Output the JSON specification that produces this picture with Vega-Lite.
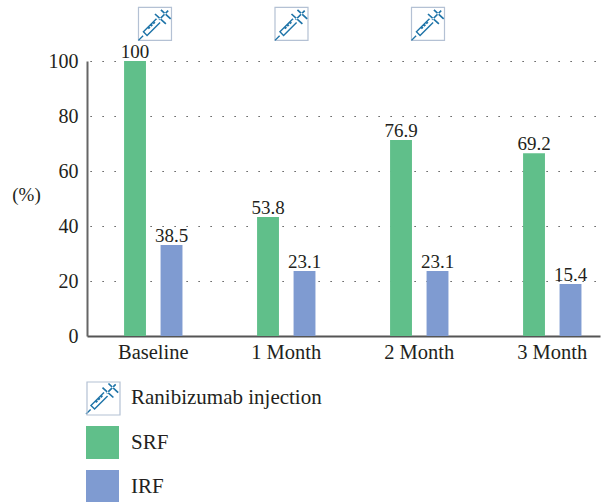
{
"$schema":"https://vega.github.io/schema/vega-lite/v6.json",
"width":513,"height":275,
"padding":{"left":87,"top":61,"right":9,"bottom":166},
"autosize":{"type":"none"},
"background":"white",
"config":{"view":{"stroke":null},"font":"Liberation Serif","text":{"font":"Liberation Serif"}},
"datasets":{
"bars":[
{"visit":"Baseline","series":"SRF","value":100,"label":"100"},
{"visit":"Baseline","series":"IRF","value":33.1,"label":"38.5"},
{"visit":"1 Month","series":"SRF","value":43.3,"label":"53.8"},
{"visit":"1 Month","series":"IRF","value":23.6,"label":"23.1"},
{"visit":"2 Month","series":"SRF","value":71.3,"label":"76.9"},
{"visit":"2 Month","series":"IRF","value":23.6,"label":"23.1"},
{"visit":"3 Month","series":"SRF","value":66.5,"label":"69.2"},
{"visit":"3 Month","series":"IRF","value":18.9,"label":"15.4"}],
"icons":[
{"dose":0,"level":113.5,"series":"Ranibizumab injection"},
{"dose":1,"level":113.5,"series":"Ranibizumab injection"},
{"dose":2,"level":113.5,"series":"Ranibizumab injection"}]
},
"layer":[
{"data":{"name":"bars"},
"encoding":{
"x":{"field":"visit","type":"nominal","sort":["Baseline","1 Month","2 Month","3 Month"],
"scale":{"paddingInner":0.5,"paddingOuter":0.1786,"align":0.695},
"axis":{"title":null,"labelAngle":0,"labelFontSize":20.5,"labelColor":"#231f20","labelFont":"Liberation Serif","labelPadding":6,"ticks":false,"domainColor":"#555555","domainWidth":2,"grid":false}},
"xOffset":{"field":"series","type":"nominal","sort":["SRF","IRF"],"scale":{"paddingInner":0.4,"paddingOuter":0.111}},
"y":{"field":"value","type":"quantitative","scale":{"domain":[0,100],"nice":false},
"axis":{"title":"(%)","titleAngle":0,"titleFontSize":19,"titleFont":"Liberation Serif","titleFontWeight":"normal","titleColor":"#231f20","titleX":-61,"titleY":143,"titleAlign":"center","values":[0,20,40,60,80,100],"labelFontSize":20,"labelFont":"Liberation Serif","labelColor":"#231f20","labelPadding":9,"ticks":false,"domainColor":"#666666","domainWidth":2,"grid":true,"gridColor":"#333333","gridWidth":1.2,"gridDash":[1.2,10.8],"gridDashOffset":-3}}
},
"layer":[
{"mark":{"type":"bar"},
"encoding":{"color":{"field":"series","type":"nominal","scale":{"domain":["Ranibizumab injection","SRF","IRF"],"range":["#1f74a8","#60BF8A","#7F9BD1"]}}}},
{"mark":{"type":"text","fontSize":19,"font":"Liberation Serif","color":"#231f20","baseline":"bottom","dy":1},
"encoding":{"text":{"field":"label"}}}
]},
{"data":{"name":"icons"},
"encoding":{
"x":{"field":"dose","type":"quantitative","scale":{"domain":[-0.498,3.26],"nice":false,"zero":false},"axis":null},
"y":{"field":"level","type":"quantitative"}
},
"layer":[
{"mark":{"type":"point","shape":"square","size":1089,"filled":false,"strokeWidth":1.2,"opacity":1,"clip":false},
"encoding":{"stroke":{"field":"series","type":"nominal","scale":{"domain":["Ranibizumab injection"],"range":["#b4c1d4"]},
"legend":{"title":null,"orient":"none","legendX":-1,"legendY":320,"labelFontSize":18,"labelExpr":"''","symbolType":"square","symbolSize":1089,"symbolOpacity":1,"symbolStrokeWidth":1.2,"symbolFillColor":"transparent","padding":0}}}},
{"mark":{"type":"point","filled":true,"size":1089,"opacity":1,"clip":false},
"encoding":{
"color":{"field":"series","type":"nominal","scale":{"domain":["Ranibizumab injection","SRF","IRF"],"range":["#1f74a8","#60BF8A","#7F9BD1"]},
"legend":{"title":null,"orient":"none","legendX":-1,"legendY":320,"labelFontSize":21,"labelLimit":0,"labelFont":"Liberation Serif","labelColor":"#231f20","labelOffset":12,"symbolSize":1089,"symbolOpacity":1,"symbolStrokeWidth":0,"rowPadding":11,"padding":0}},
"shape":{"field":"series","type":"nominal","scale":{"domain":["Ranibizumab injection","SRF","IRF"],"range":["M-.97 1.03L-.69 .75L-.75 .69L-1.03 .97ZM-.48 .76L.34 -.06L.06 -.34L-.76 .48ZM-.64 .48L.12 -.28L.28 -.12L-.48 .64ZM-.37 .33L-.27 .23L-.33 .17L-.43 .27ZM-.22 .18L-.12 .08L-.18 .02L-.28 .12ZM-.07 .03L.03 -.07L-.03 -.13L-.13 -.03ZM.035 -.635L.695 -.035L.625 .035L-.035 -.565ZM.285 -.215L.835 -.765L.765 -.835L.215 -.285ZM.395 -.885L.985 -.335L.915 -.265L.325 -.815Z","square","square"]},"legend":null}
}}
]}
],
"resolve":{"scale":{"x":"independent"},"axis":{"x":"independent"}}
}
